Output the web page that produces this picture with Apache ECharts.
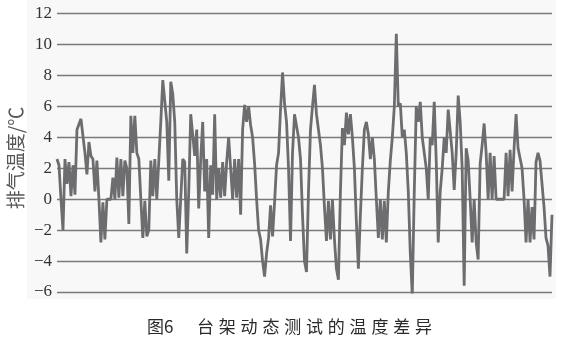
<!DOCTYPE html>
<html><head><meta charset="utf-8">
<script src="https://cdn.jsdelivr.net/npm/echarts@6/dist/echarts.min.js"></script>
<style>html,body{margin:0;padding:0;background:#fff}#c{width:582px;height:345px}</style>
</head><body><div id="c"></div>
<script>
// y-axis ticks
const yTicks = [-6, -4, -2, 0, 2, 4, 6, 8, 10, 12];
const yTitle = '排气温度/℃';
const captionNo = '图6';
const captionText = '台架动态测试的温度差异';
// exhaust temperature difference (°C), uniformly sampled
const tempDiff = [
 2.6, 2.2, 0.0, -2.0, 2.6, 1.0, 2.4, 0.2, 2.2, 0.3,
 4.5, 4.6, 5.2, 5.2, 3.0, 1.6, 3.7, 2.8, 2.6, 0.5,
 2.5, 0.0, -2.8, -0.2, -2.6, 0.0, 0.0, 0.0, 1.4, 0.0,
 2.7, 0.1, 2.6, 0.2, 2.5, 2.0, -1.6, 5.4, 3.0, 5.4,
 3.0, 2.6, 0.0, -2.5, -0.1, -2.4, -2.0, 2.5, 0.2, 2.6,
 0.0, 2.5, 5.0, 7.7, 7.7, 5.0, 1.2, 7.6, 6.8, 5.0,
 0.0, -2.5, -2.4, 2.6, 2.4, -3.5, 0.5, 5.5, 5.6, 2.8,
 4.5, -0.6, 2.6, 5.0, 0.5, 2.6, -2.5, 2.2, 0.3, 5.5,
 0.0, 2.0, 0.1, 2.4, 0.2, 2.4, 4.0, 2.0, 0.0, 2.6,
 0.1, 2.6, -1.0, 4.5, 6.1, 5.0, 6.0, 4.8, 4.0, 2.3,
 0.0, -2.0, -2.6, -4.0, -5.0, -3.5, -2.5, -0.4, -2.4, -0.2,
 2.2, 3.0, 5.8, 8.2, 6.2, 5.0, 2.0, -2.7, 3.0, 5.5,
 5.5, 4.0, 2.6, -1.0, -4.0, -4.7, 0.5, 4.5, 6.0, 7.4,
 5.5, 5.6, 3.5, 2.0, -0.5, -2.7, -0.1, -2.6, 0.0, -2.6,
 -4.5, -5.2, 0.5, 4.6, 3.5, 5.6, 4.2, 5.5, 4.0, 2.0,
 -1.5, -4.5, -1.0, 2.0, 4.5, 5.0, 4.2, 2.6, 4.0, 2.6,
 0.0, -2.5, 0.0, -2.6, -0.1, -2.8, 0.5, 2.5, 4.0, 6.0,
 10.7, 6.0, 6.2, 4.0, 4.5, 3.0, 0.5, -3.5, -6.2, 0.5,
 6.0, 5.0, 6.3, 4.0, 3.0, 2.0, 0.0, 4.0, 3.5, 6.3,
 2.5, -2.8, 0.5, 2.0, 4.0, 3.0, 5.8, 5.7, 3.0, 0.6,
 3.0, 6.7, 5.0, 2.0, -5.6, 3.3, 2.5, 0.0, -2.8, 0.0,
 -2.8, -3.9, 2.3, 3.5, 4.9, 3.0, 0.0, 3.0, 0.0, 2.8,
 0.0, 0.0, 0.0, 0.0, 0.0, 3.0, 0.2, 3.2, 0.5, 3.3,
 5.5, 3.3, 3.2, 2.0, 0.0, -2.8, 0.0, -2.8, -0.5, -2.6,
 2.4, 3.0, 2.5, 1.0, -0.5, -2.5, -3.0, -5.0, -1.0
];
const samples = tempDiff.map((_, i) => i);

const capFont = '17px "Noto Sans CJK SC"';
const captionGraphics = [
  {type: 'text', silent: true, x: 147, y: 327, style: {text: captionNo, font: capFont, fill: '#2a2a2a', verticalAlign: 'middle'}}
].concat(captionText.split('').map((ch, i) => ({
  type: 'text', silent: true, x: 197 + i * 21.8, y: 327,
  style: {text: ch, font: capFont, fill: '#2a2a2a', verticalAlign: 'middle'}
})));

const chart = echarts.init(document.getElementById('c'), null, {renderer: 'canvas'});
chart.setOption({
  animation: false,
  backgroundColor: '#ffffff',
  grid: {left: 57, right: 30, top: 13.7, bottom: 53, containLabel: false},
  graphic: [
    {type: 'rect', z: -10, silent: true, shape: {x: 27, y: 0, width: 529, height: 299}, style: {fill: '#f8f8f8'}},
    {type: 'text', silent: true, rotation: Math.PI / 2, x: 16, y: 158, style: {text: yTitle, font: '19px "Noto Sans CJK SC"', fill: '#555', align: 'center', verticalAlign: 'middle'}}
  ].concat(captionGraphics),
  xAxis: {
    type: 'category', data: samples, boundaryGap: false,
    axisLine: {show: false}, axisTick: {show: false}, axisLabel: {show: false}, splitLine: {show: false}
  },
  yAxis: {
    type: 'value', min: yTicks[0], max: yTicks[yTicks.length - 1], interval: 2,
    axisLine: {show: false}, axisTick: {show: false},
    axisLabel: {margin: 5, color: '#333', fontFamily: 'Liberation Serif', fontSize: 17,
      formatter: v => String(v).replace('-', '\u2212')},
    splitLine: {lineStyle: {color: '#7a7a7a', width: 1.3}}
  },
  series: [{
    type: 'line', data: tempDiff, symbol: 'none', smooth: false,
    lineStyle: {color: '#6d6d70', width: 2.8}
  }]
});
</script></body></html>
